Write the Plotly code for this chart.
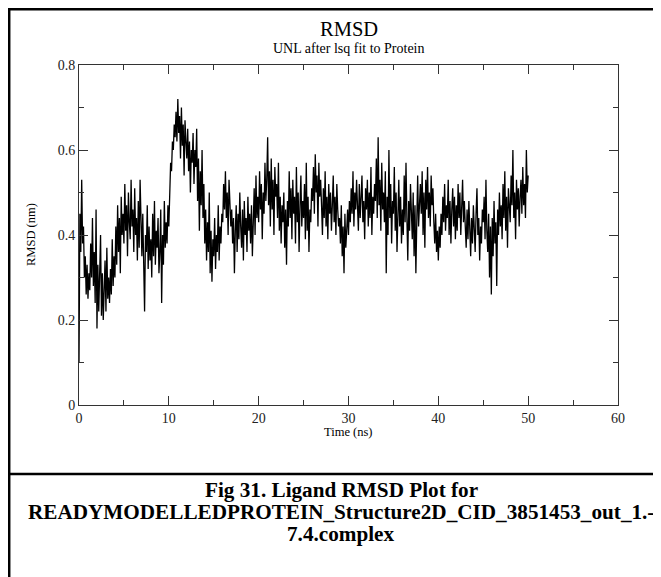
import plotly.graph_objects as go

# ---- data (RMSD of ligand, nm) sampled every 0.1 ns from 0 to 50 ns ----
rmsd_rows = [
    [0.10, 0.45, 0.36, 0.53, 0.38, 0.42, 0.30, 0.35, 0.26, 0.33],
    [0.25, 0.31, 0.27, 0.38, 0.30, 0.44, 0.28, 0.36, 0.24, 0.46],
    [0.18, 0.33, 0.22, 0.29, 0.40, 0.21, 0.31, 0.20, 0.27, 0.34],
    [0.22, 0.37, 0.25, 0.30, 0.24, 0.32, 0.26, 0.39, 0.28, 0.35],
    [0.30, 0.42, 0.33, 0.47, 0.36, 0.44, 0.31, 0.49, 0.40, 0.45],
    [0.38, 0.52, 0.41, 0.47, 0.35, 0.50, 0.43, 0.39, 0.53, 0.42],
    [0.46, 0.36, 0.51, 0.40, 0.44, 0.34, 0.48, 0.37, 0.53, 0.41],
    [0.35, 0.45, 0.33, 0.22, 0.40, 0.36, 0.47, 0.32, 0.42, 0.34],
    [0.39, 0.30, 0.45, 0.35, 0.48, 0.33, 0.41, 0.37, 0.44, 0.31],
    [0.36, 0.46, 0.24, 0.40, 0.33, 0.48, 0.37, 0.43, 0.38, 0.47],
    [0.42, 0.50, 0.57, 0.55, 0.62, 0.60, 0.66, 0.63, 0.69, 0.62],
    [0.72, 0.64, 0.68, 0.58, 0.70, 0.61, 0.66, 0.54, 0.67, 0.62],
    [0.58, 0.65, 0.55, 0.62, 0.50, 0.60, 0.57, 0.64, 0.52, 0.60],
    [0.56, 0.65, 0.48, 0.58, 0.41, 0.55, 0.47, 0.60, 0.44, 0.52],
    [0.38, 0.46, 0.34, 0.43, 0.36, 0.50, 0.31, 0.41, 0.29, 0.39],
    [0.35, 0.44, 0.32, 0.40, 0.36, 0.47, 0.34, 0.42, 0.38, 0.45],
    [0.43, 0.52, 0.46, 0.55, 0.44, 0.50, 0.40, 0.53, 0.47, 0.42],
    [0.46, 0.38, 0.44, 0.31, 0.41, 0.47, 0.36, 0.45, 0.39, 0.50],
    [0.42, 0.37, 0.46, 0.34, 0.48, 0.40, 0.44, 0.36, 0.49, 0.41],
    [0.45, 0.38, 0.47, 0.35, 0.43, 0.51, 0.40, 0.54, 0.44, 0.49],
    [0.43, 0.55, 0.46, 0.52, 0.39, 0.50, 0.45, 0.57, 0.48, 0.53],
    [0.63, 0.47, 0.55, 0.42, 0.58, 0.46, 0.53, 0.40, 0.56, 0.49],
    [0.52, 0.44, 0.57, 0.41, 0.49, 0.38, 0.47, 0.43, 0.50, 0.37],
    [0.46, 0.33, 0.48, 0.42, 0.55, 0.44, 0.51, 0.39, 0.53, 0.45],
    [0.49, 0.38, 0.56, 0.43, 0.50, 0.36, 0.47, 0.54, 0.42, 0.48],
    [0.44, 0.52, 0.39, 0.57, 0.41, 0.49, 0.36, 0.46, 0.43, 0.51],
    [0.48, 0.56, 0.45, 0.59, 0.50, 0.54, 0.42, 0.57, 0.49, 0.53],
    [0.47, 0.40, 0.51, 0.44, 0.55, 0.42, 0.49, 0.39, 0.52, 0.45],
    [0.50, 0.41, 0.47, 0.54, 0.43, 0.49, 0.40, 0.52, 0.46, 0.42],
    [0.44, 0.38, 0.47, 0.35, 0.42, 0.31, 0.45, 0.37, 0.41, 0.46],
    [0.40, 0.48, 0.43, 0.51, 0.45, 0.55, 0.42, 0.50, 0.46, 0.53],
    [0.47, 0.41, 0.52, 0.44, 0.49, 0.54, 0.43, 0.48, 0.39, 0.51],
    [0.46, 0.53, 0.42, 0.50, 0.44, 0.56, 0.40, 0.49, 0.45, 0.52],
    [0.48, 0.58, 0.44, 0.63, 0.47, 0.53, 0.41, 0.57, 0.46, 0.50],
    [0.43, 0.55, 0.31, 0.49, 0.40, 0.60, 0.44, 0.52, 0.38, 0.48],
    [0.45, 0.56, 0.41, 0.50, 0.36, 0.47, 0.53, 0.42, 0.49, 0.38],
    [0.46, 0.40, 0.54, 0.43, 0.57, 0.44, 0.34, 0.48, 0.41, 0.52],
    [0.45, 0.39, 0.50, 0.35, 0.47, 0.31, 0.43, 0.54, 0.42, 0.49],
    [0.52, 0.45, 0.55, 0.40, 0.50, 0.37, 0.53, 0.46, 0.56, 0.44],
    [0.50, 0.42, 0.54, 0.47, 0.51, 0.43, 0.38, 0.45, 0.36, 0.41],
    [0.34, 0.42, 0.37, 0.45, 0.40, 0.49, 0.43, 0.52, 0.41, 0.47],
    [0.44, 0.53, 0.40, 0.48, 0.38, 0.46, 0.51, 0.42, 0.49, 0.39],
    [0.47, 0.41, 0.52, 0.44, 0.50, 0.40, 0.46, 0.53, 0.43, 0.48],
    [0.42, 0.37, 0.46, 0.39, 0.48, 0.41, 0.35, 0.44, 0.38, 0.47],
    [0.41, 0.36, 0.45, 0.51, 0.40, 0.44, 0.34, 0.42, 0.38, 0.46],
    [0.43, 0.49, 0.39, 0.53, 0.41, 0.36, 0.45, 0.30, 0.42, 0.26],
    [0.44, 0.35, 0.48, 0.38, 0.43, 0.28, 0.46, 0.40, 0.50, 0.42],
    [0.47, 0.39, 0.52, 0.44, 0.55, 0.41, 0.49, 0.37, 0.51, 0.45],
    [0.43, 0.54, 0.47, 0.60, 0.44, 0.50, 0.39, 0.53, 0.46, 0.51],
    [0.42, 0.49, 0.53, 0.45, 0.56, 0.47, 0.52, 0.44, 0.60, 0.50],
]
rmsd_last = [0.54]
rmsd = [v for row in rmsd_rows for v in row] + rmsd_last
time_ns = [round(i * 0.1, 1) for i in range(len(rmsd))]

x_ticks = [0, 10, 20, 30, 40, 50, 60]
y_ticks = [0, 0.2, 0.4, 0.6, 0.8]

title_text = "RMSD"
subtitle_text = "UNL after lsq fit to Protein"
x_title = "Time (ns)"
y_title = "RMSD (nm)"
caption_lines = [
    "Fig 31. Ligand RMSD Plot for",
    "READYMODELLEDPROTEIN_Structure2D_CID_3851453_out_1.-",
    "7.4.complex",
]

# ---- layout helpers: page pixel (page has an 8px body margin) -> paper ----
W, H = 653, 569
L, T = 71, 57
PW, PH = 539, 340
R, B = W - L - PW, H - T - PH
X0, Y0 = 79, 405   # page-pixel position of the plot's lower-left corner


def px(X):
    return (X - X0) / PW


def py(Y):
    return (Y0 - Y) / PH


SERIF = "Liberation Serif, Times New Roman, serif"

fig = go.Figure()
fig.add_trace(go.Scatter(
    x=time_ns, y=rmsd, mode="lines",
    line=dict(color="black", width=1.3),
    showlegend=False, hoverinfo="skip",
))

axis_common = dict(
    showgrid=False, zeroline=False,
    showline=True, linecolor="#333", linewidth=1,
    mirror="allticks", ticks="inside", ticklen=9, tickwidth=1, tickcolor="#333",
    tickfont=dict(family=SERIF, size=14, color="#222"),
)
fig.update_xaxes(range=[0, 60], tickvals=x_ticks,
                 minor=dict(dtick=5, ticks="inside", ticklen=5, tickcolor="#333"),
                 **axis_common)
fig.update_yaxes(range=[0, 0.8], tickvals=y_ticks,
                 minor=dict(dtick=0.1, ticks="inside", ticklen=5, tickcolor="#333"),
                 **axis_common)

ann = []
ann.append(dict(text=title_text, x=px(348.5), y=py(29.5), xref="paper", yref="paper",
                showarrow=False, xanchor="center", yanchor="middle",
                font=dict(family=SERIF, size=20.5, color="black")))
ann.append(dict(text=subtitle_text, x=px(348.5), y=py(49), xref="paper", yref="paper",
                showarrow=False, xanchor="center", yanchor="middle",
                font=dict(family=SERIF, size=14, color="black")))
ann.append(dict(text=x_title, x=px(348.5), y=py(432), xref="paper", yref="paper",
                showarrow=False, xanchor="center", yanchor="middle",
                font=dict(family=SERIF, size=12.5, color="black")))
ann.append(dict(text=y_title, x=px(31), y=py(235), xref="paper", yref="paper",
                showarrow=False, xanchor="center", yanchor="middle", textangle=-90,
                font=dict(family=SERIF, size=12.5, color="black")))
for i, line in enumerate(caption_lines):
    ann.append(dict(text=line, x=px(341), y=py(489.5 + 22 * i), xref="paper", yref="paper",
                    showarrow=False, xanchor="center", yanchor="middle",
                    font=dict(family=SERIF, size=21.2, color="black", weight="bold")))

frame = dict(color="black", width=2.5)
shapes = [
    dict(type="line", xref="paper", yref="paper", x0=px(8), x1=px(8 + W), y0=py(9.2), y1=py(9.2), line=frame),
    dict(type="line", xref="paper", yref="paper", x0=px(9.2), x1=px(9.2), y0=py(8), y1=py(8 + H), line=frame),
    dict(type="line", xref="paper", yref="paper", x0=px(8), x1=px(8 + W), y0=py(474), y1=py(474), line=frame),
]

fig.update_layout(
    width=W, height=H,
    margin=dict(l=L, r=R, t=T, b=B, pad=0),
    paper_bgcolor="white", plot_bgcolor="white",
    annotations=ann, shapes=shapes,
)

fig.write_html("out.html")
